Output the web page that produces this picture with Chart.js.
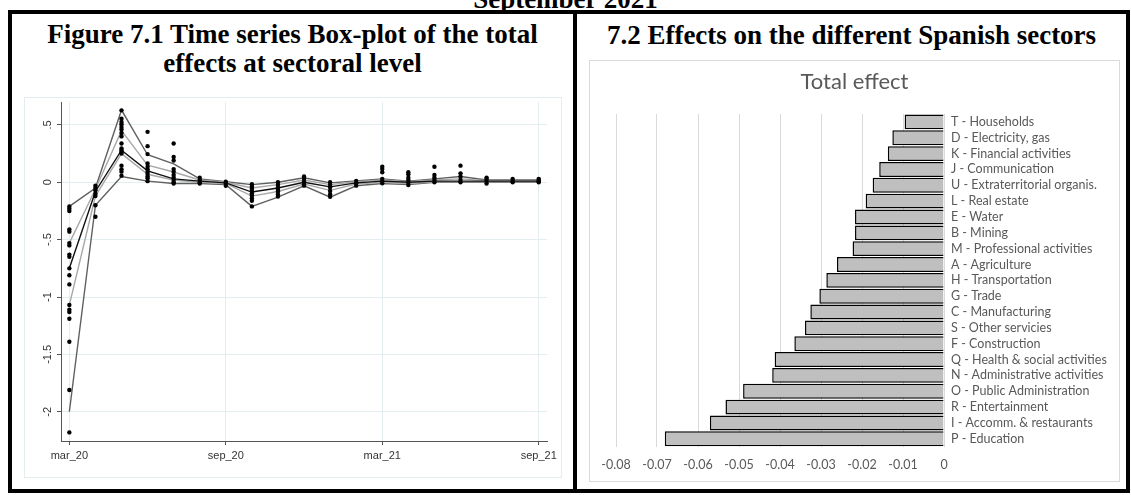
<!DOCTYPE html>
<html>
<head>
<meta charset="utf-8">
<script src="https://cdn.jsdelivr.net/npm/chart.js@4.4.0/dist/chart.umd.min.js"></script>
<style>
    html, body { margin: 0; padding: 0; background: #fff; }
    body { width: 1131px; height: 495px; position: relative; overflow: hidden; font-family: "Liberation Serif", "Times New Roman", serif; }
    .heading { position: absolute; font-weight: bold; font-size: 27px; line-height: 29px; color: #000; text-align: center; white-space: nowrap; }
    .frame { position: absolute; box-sizing: border-box; }
    .frame canvas { display: block; }
</style>
</head>
<body>

<div class="heading" style="left:0; width:1131px; top:-14.6px;">September 2021</div>

<div class="frame" style="left:8px; top:10px; width:1122px; height:483px; border:4px solid #000;"></div>
<div class="frame" style="left:573px; top:10px; width:4px; height:483px; background:#000;"></div>

<div class="heading" style="left:12px; width:561px; top:20px;">Figure 7.1 Time series Box-plot of the total<br>effects at sectoral level</div>
<div class="heading" style="left:577px; width:549px; top:21px;">7.2 Effects on the different Spanish sectors</div>

<div class="frame" style="left:24px; top:97px; width:538px; height:381px; border:1px solid #e3ecee;">
    <canvas id="box-canvas" width="536" height="379"></canvas>
</div>

<div class="frame" style="left:589px; top:60px; width:531px; height:422px; border:1px solid #d9d9d9;">
    <canvas id="bar-canvas" width="529" height="420"></canvas>
</div>

<script>
// ---- figure 7.1 : monthly distribution of the sectoral total effects ----
const monthLabels = ['mar_20', 'apr_20', 'may_20', 'jun_20', 'jul_20', 'aug_20', 'sep_20', 'oct_20', 'nov_20', 'dec_20',
    'jan_21', 'feb_21', 'mar_21', 'apr_21', 'may_21', 'jun_21', 'jul_21', 'aug_21', 'sep_21'];

const upperLine     = [-0.21, -0.05, 0.63, 0.24, 0.16, 0.03, 0.005, -0.02, 0.0, 0.04, -0.005, 0.012, 0.03, 0.01, 0.03, 0.05, 0.02, 0.02, 0.02];
const upperQuartile = [-0.53, -0.06, 0.45, 0.15, 0.09, 0.02, 0.0, -0.05, -0.02, 0.02, -0.02, 0.005, 0.02, 0.005, 0.02, 0.03, 0.015, 0.015, 0.015];
const medianLine    = [-0.75, -0.08, 0.28, 0.10, 0.03, 0.01, -0.005, -0.085, -0.05, 0.0, -0.04, -0.005, 0.01, 0.0, 0.01, 0.01, 0.01, 0.01, 0.01];
const lowerQuartile = [-1.07, -0.12, 0.25, 0.07, 0.02, 0.0, -0.01, -0.12, -0.08, -0.015, -0.07, -0.015, 0.0, -0.01, 0.005, 0.005, 0.005, 0.005, 0.005];
const lowerLine     = [-2.0, -0.20, 0.05, 0.01, -0.01, -0.01, -0.02, -0.21, -0.13, -0.03, -0.13, -0.03, -0.01, -0.02, 0.0, 0.0, 0.0, 0.0, 0.0];

// one list of sector values for every month
const sectorDots = [
    [-0.21, -0.23, -0.25, -0.41, -0.43, -0.53, -0.55, -0.63, -0.65, -0.75, -0.81, -0.89, -1.07, -1.11, -1.13, -1.19, -1.39, -1.81, -2.18],
    [-0.03, -0.05, -0.07, -0.10, -0.12, -0.20, -0.30],
    [0.627, 0.555, 0.526, 0.506, 0.483, 0.46, 0.43, 0.40, 0.338, 0.295, 0.28, 0.265, 0.25, 0.145, 0.113, 0.093, 0.058],
    [0.44, 0.315, 0.246, 0.165, 0.136, 0.113, 0.093, 0.073, 0.05, 0.035, 0.01],
    [0.338, 0.22, 0.19, 0.115, 0.093, 0.064, 0.04, 0.02, 0.0, -0.01],
    [0.04, 0.02, 0.0, -0.01],
    [0.005, -0.01, -0.03],
    [-0.017, -0.037, -0.057, -0.075, -0.095, -0.115, -0.139, -0.161, -0.21],
    [0.0, -0.023, -0.046, -0.066, -0.08, -0.104, -0.124],
    [0.05, 0.03, 0.006, -0.017, -0.029],
    [0.0, -0.023, -0.046, -0.075, -0.104, -0.127],
    [0.012, -0.009, -0.029],
    [0.136, 0.116, 0.087, 0.03, 0.012, -0.009],
    [0.087, 0.07, 0.04, 0.02, 0.0, -0.023],
    [0.136, 0.064, 0.04, 0.02, 0.0],
    [0.145, 0.078, 0.05, 0.02, 0.0],
    [0.04, 0.03, 0.012, -0.01],
    [0.03, 0.012, 0.0],
    [0.03, 0.02, 0.01, 0.0]
];

const yTickValues = [-2, -1.5, -1, -0.5, 0, 0.5];
const yTickLabels = ['-2', '-1.5', '-1', '-.5', '0', '.5'];
const xTickIndex  = [0, 6, 12, 18];

// ---- figure 7.2 : total effect by sector ----
const sectorLabels = ['T - Households', 'D - Electricity, gas', 'K - Financial activities', 'J - Communication',
    'U - Extraterritorial organis.', 'L - Real estate', 'E - Water', 'B - Mining', 'M - Professional activities',
    'A - Agriculture', 'H - Transportation', 'G - Trade', 'C - Manufacturing', 'S - Other servicies', 'F - Construction',
    'Q - Health & social activities', 'N - Administrative activities', 'O - Public Administration', 'R - Entertainment',
    'I - Accomm. & restaurants', 'P - Education'];
const totalEffect = [-0.0096, -0.0126, -0.0137, -0.0158, -0.0174, -0.0191, -0.0217, -0.0217, -0.0223, -0.0261, -0.0287,
    -0.0304, -0.0326, -0.0339, -0.0365, -0.0413, -0.0419, -0.0490, -0.0533, -0.0571, -0.0681];
const effectTicks = [-0.08, -0.07, -0.06, -0.05, -0.04, -0.03, -0.02, -0.01, 0];
const effectTickLabels = ['-0.08', '-0.07', '-0.06', '-0.05', '-0.04', '-0.03', '-0.02', '-0.01', '0'];

const stataFont = '"Liberation Sans", Arial, sans-serif';
const excelFont = 'Lato, "Open Sans", sans-serif';

function series_points(values) {
    return values.map((v, i) => ({ x: i, y: v }));
}

function quantile_line(values, color, order) {
    return {
        type: 'line',
        data: series_points(values),
        borderColor: color,
        borderWidth: 1.4,
        pointRadius: 0,
        tension: 0,
        fill: false,
        order: order
    };
}

var dot_points = [];
sectorDots.forEach((month_values, i) => {
    month_values.forEach((v) => {
        dot_points.push({ x: i, y: v });
    });
});

// stata writes the y labels turned a quarter
const stataYLabels = {
    id: 'stataYLabels',
    afterDraw(chart) {
        const scale = chart.scales.y;
        const ctx = chart.ctx;
        ctx.save();
        ctx.font = '11px ' + stataFont;
        ctx.fillStyle = '#333';
        ctx.textAlign = 'center';
        ctx.textBaseline = 'middle';
        yTickValues.forEach((v, i) => {
            ctx.save();
            ctx.translate(scale.right - 13.5, scale.getPixelForValue(v));
            ctx.rotate(-Math.PI / 2);
            ctx.fillText(yTickLabels[i], 0, 0);
            ctx.restore();
        });
        ctx.restore();
    }
};

new Chart(document.getElementById('box-canvas'), {
    type: 'line',
    data: {
        datasets: [
            {
                type: 'scatter',
                data: dot_points,
                pointRadius: 2.2,
                pointBorderWidth: 0,
                backgroundColor: '#000',
                borderColor: '#000',
                order: 0
            },
            quantile_line(medianLine, '#111', 1),
            quantile_line(upperQuartile, '#a8a8a8', 2),
            quantile_line(lowerQuartile, '#a8a8a8', 2),
            quantile_line(upperLine, '#606060', 3),
            quantile_line(lowerLine, '#606060', 3)
        ]
    },
    options: {
        responsive: false,
        animation: false,
        layout: { padding: { top: 2, right: 13, left: 0, bottom: 0 } },
        plugins: {
            legend: { display: false },
            tooltip: { enabled: false }
        },
        scales: {
            x: {
                type: 'linear',
                min: -0.32,
                max: 18.32,
                afterBuildTicks: (s) => { s.ticks = xTickIndex.map((v) => ({ value: v })); },
                afterFit: (s) => { s.height = 36; },
                ticks: {
                    callback: (v) => monthLabels[v],
                    color: '#333',
                    font: { family: stataFont, size: 11 },
                    padding: 4,
                    maxRotation: 0,
                    autoSkip: false
                },
                grid: { color: '#e4eef0', tickColor: '#555', tickLength: 4 },
                border: { color: '#555', width: 1 }
            },
            y: {
                min: -2.255,
                max: 0.7,
                afterBuildTicks: (s) => { s.ticks = yTickValues.map((v) => ({ value: v })); },
                afterFit: (s) => { s.width = 36; },
                ticks: { display: false },
                grid: { color: '#e4eef0', tickColor: '#555', tickLength: 4 },
                border: { color: '#555', width: 1 }
            }
        }
    },
    plugins: [stataYLabels]
});

new Chart(document.getElementById('bar-canvas'), {
    type: 'bar',
    data: {
        labels: sectorLabels,
        datasets: [{
            data: totalEffect,
            backgroundColor: '#bfbfbf',
            borderColor: '#000',
            borderWidth: 1.5,
            barPercentage: 0.94,
            categoryPercentage: 1
        }]
    },
    options: {
        indexAxis: 'y',
        responsive: false,
        animation: false,
        layout: { padding: 0 },
        plugins: {
            legend: { display: false },
            tooltip: { enabled: false },
            title: {
                display: true,
                text: 'Total effect',
                color: '#595959',
                font: { family: excelFont, size: 22, weight: 'normal' },
                padding: { top: 8, bottom: 18.6 }
            }
        },
        scales: {
            x: {
                min: -0.08,
                max: 0,
                afterBuildTicks: (s) => { s.ticks = effectTicks.map((v) => ({ value: v })); },
                afterFit: (s) => { s.height = 34.3; },
                ticks: {
                    callback: (v, i) => effectTickLabels[i],
                    color: '#595959',
                    font: { family: excelFont, size: 12.5 },
                    padding: 11,
                    maxRotation: 0
                },
                grid: { color: '#d9d9d9', drawTicks: false },
                border: { display: false }
            },
            y: {
                position: 'right',
                afterFit: (s) => { s.width = 175; },
                ticks: {
                    color: '#595959',
                    font: { family: excelFont, size: 12.5 },
                    padding: 7,
                    autoSkip: false
                },
                grid: { display: false, drawTicks: false },
                border: { display: false }
            },
            // empty margin on the left so the title stays centred on the frame
            leftMargin: {
                type: 'category',
                axis: 'y',
                position: 'left',
                afterFit: (s) => { s.width = 26; },
                ticks: { display: false },
                grid: { display: false, drawTicks: false },
                border: { display: false }
            }
        }
    }
});
</script>
</body>
</html>
